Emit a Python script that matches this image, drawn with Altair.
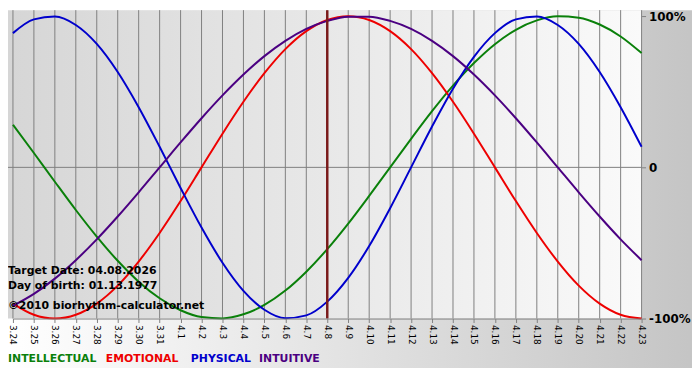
import altair as alt
import pandas as pd

days = ["3.24", "3.25", "3.26", "3.27", "3.28", "3.29", "3.30", "3.31", "4.1", "4.2",
        "4.3", "4.4", "4.5", "4.6", "4.7", "4.8", "4.9", "4.10", "4.11", "4.12",
        "4.13", "4.14", "4.15", "4.16", "4.17", "4.18", "4.19", "4.20", "4.21", "4.22", "4.23"]

intellectual = [0.282, 0.095, -0.095, -0.282, -0.458, -0.618, -0.756, -0.866, -0.945, -0.990,
                -0.999, -0.972, -0.910, -0.815, -0.690, -0.541, -0.372, -0.189, 0.0, 0.189,
                0.372, 0.541, 0.690, 0.815, 0.910, 0.972, 0.999, 0.990, 0.945, 0.866, 0.756]
emotional = [-0.901, -0.975, -1.0, -0.975, -0.901, -0.782, -0.623, -0.434, -0.223, 0.0,
             0.223, 0.434, 0.623, 0.782, 0.901, 0.975, 1.0, 0.975, 0.901, 0.782,
             0.623, 0.434, 0.223, 0.0, -0.223, -0.434, -0.623, -0.782, -0.901, -0.975, -1.0]
physical = [0.888, 0.979, 0.998, 0.942, 0.817, 0.631, 0.398, 0.136, -0.136, -0.398,
            -0.631, -0.817, -0.942, -0.998, -0.979, -0.888, -0.731, -0.520, -0.270, 0.0,
            0.270, 0.520, 0.731, 0.888, 0.979, 0.998, 0.942, 0.817, 0.631, 0.398, 0.136]
intuitive = [-0.916, -0.837, -0.736, -0.614, -0.476, -0.325, -0.165, 0.0, 0.165, 0.325,
             0.476, 0.614, 0.736, 0.837, 0.916, 0.969, 0.997, 0.997, 0.969, 0.916,
             0.837, 0.736, 0.614, 0.476, 0.325, 0.165, 0.0, -0.165, -0.325, -0.476, -0.614]

series_names = ["INTELLECTUAL", "EMOTIONAL", "PHYSICAL", "INTUITIVE"]
series_colors = ["#0a800a", "#ee0000", "#0000cc", "#4b0082"]
target_day = "4.8"
info_lines = ["Target Date: 04.08.2026", "Day of birth: 01.13.1977", "\u00a92010 biorhythm-calculator.net"]
y_ticks = [-1, 0, 1]

PADL = 5
W, H = 636, 312

rows = []
for name, vals in zip(series_names, [intellectual, emotional, physical, intuitive]):
    for i, (d, v) in enumerate(zip(days, vals)):
        rows.append({"idx": i, "day": d, "series": name, "value": v})
df = pd.DataFrame(rows)
grid_df = pd.DataFrame({"idx": list(range(len(days))), "day": days})

label_expr = "[" + ",".join("'%s'" % d for d in days) + "][datum.value]"
ylabel_expr = "datum.value > 0 ? '100%' : (datum.value < 0 ? '-100%' : '0')"

x_scale = alt.Scale(domain=[0, len(days) - 1], nice=False, zero=False)
x_axis = alt.Axis(values=list(range(len(days))), labelExpr=label_expr, labelAngle=90,
                  labelAlign="left", labelBaseline="middle", labelPadding=2,
                  labelFont="DejaVu Sans", labelFontSize=9, labelColor="black",
                  domainColor="#808080", tickColor="#808080", tickSize=4,
                  grid=False, title=None, zindex=1, labelOverlap=False,
                  labelFlush=False, labelBound=False)
x_enc = alt.X("idx:Q", scale=x_scale, axis=x_axis)
y_enc = alt.Y("value:Q",
              scale=alt.Scale(domain=[-1, 1.04], nice=False),
              axis=alt.Axis(orient="right", values=y_ticks, labelExpr=ylabel_expr,
                            labelFont="DejaVu Sans", labelFontSize=12, labelFontWeight="bold",
                            labelColor="black", labelPadding=3, domain=False,
                            tickColor="#808080", tickSize=4, grid=False, title=None, zindex=1,
                            labelOverlap=False, labelFlush=False))

one = alt.Data(values=[{}])

canvas_bg = alt.Chart(one).mark_rect(
    fill={"gradient": "linear", "x1": 0, "y1": 0, "x2": 1, "y2": 0,
          "stops": [{"offset": 0, "color": "#ffffff"}, {"offset": 1, "color": "#c4c4c4"}]}
).encode(x=alt.value(-PADL), x2=alt.value(W + 60), y=alt.value(0), y2=alt.value(H + 50))

plot_bg = alt.Chart(one).mark_rect(
    fill={"gradient": "linear", "x1": 0, "y1": 0, "x2": 1, "y2": 0,
          "stops": [{"offset": 0, "color": "#d6d6d6"}, {"offset": 1, "color": "#fafafa"}]}
).encode(x=alt.value(-PADL), x2=alt.value(W), y=alt.value(0), y2=alt.value(H))

grid = alt.Chart(grid_df).mark_rule(color="#808080", strokeWidth=1).encode(x=x_enc)

zero_rule = alt.Chart(one).mark_rule(color="#808080", strokeWidth=1).encode(
    y=alt.Y(datum=0, type="quantitative"), x=alt.value(-PADL), x2=alt.value(W))

lines = alt.Chart(df).mark_line(strokeWidth=2, interpolate="monotone").encode(
    x=x_enc, y=y_enc,
    color=alt.Color("series:N", scale=alt.Scale(domain=series_names, range=series_colors), legend=None),
    detail="series:N")

target = alt.Chart(one).mark_rule(color="#7a1a1a", strokeWidth=2.5).encode(
    x=alt.X(datum=days.index(target_day), type="quantitative", scale=x_scale, axis=x_axis))

info_layers = []
for line, ypos in zip(info_lines, [264, 279, 299]):
    info_layers.append(
        alt.Chart(alt.Data(values=[{"t": line}])).mark_text(
            align="left", baseline="middle", font="DejaVu Sans", fontSize=11,
            fontWeight="bold", color="black"
        ).encode(text="t:N", x=alt.value(-PADL), y=alt.value(ypos)))

legend_layers = []
for name, col, xpos in zip(series_names, series_colors, [0, 99, 185, 254]):
    legend_layers.append(
        alt.Chart(alt.Data(values=[{"t": name}])).mark_text(
            align="left", baseline="middle", font="DejaVu Sans", fontSize=11,
            fontWeight="bold", color=col
        ).encode(text="t:N", x=alt.value(xpos - PADL), y=alt.value(H + 41)))

chart = alt.layer(canvas_bg, plot_bg, grid, zero_rule, lines, target, *info_layers, *legend_layers).properties(
    width=W, height=H,
    autosize=alt.AutoSizeParams(type="none"),
    padding={"left": PADL, "top": 0, "right": 51, "bottom": 60},
    background="white",
).configure_view(stroke=None)

chart.save("out.html", embed_options={"renderer": "svg", "actions": False})
